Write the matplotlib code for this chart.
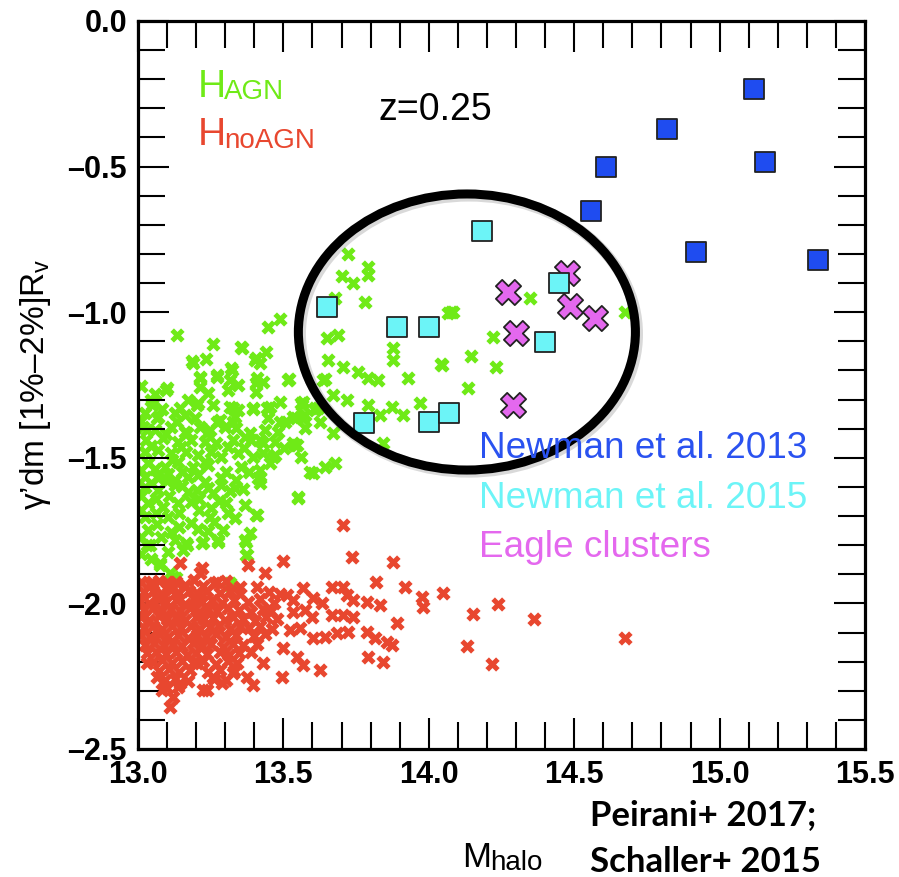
import matplotlib
matplotlib.use("Agg")
import matplotlib.pyplot as plt
from matplotlib.patches import Ellipse
from matplotlib.ticker import MultipleLocator, FuncFormatter

plt.rcParams['font.family'] = ['Liberation Sans', 'DejaVu Sans']
plt.rcParams['mathtext.fontset'] = 'custom'
plt.rcParams['mathtext.rm'] = 'Liberation Sans'
plt.rcParams['mathtext.it'] = 'Liberation Sans'

# ---------------- data ----------------
# Horizon-AGN haloes (log M_halo, gamma'_dm)
hagn = [
    (13.134, -1.078), (13.258, -1.109), (13.186, -1.168), (13.234, -1.161), (13.354, -1.119),
    (13.406, -1.157), (13.440, -1.137), (13.420, -1.175), (13.447, -1.051), (13.488, -1.023),
    (13.320, -1.192), (13.722, -0.800), (13.791, -0.845), (13.791, -0.872), (13.701, -0.876),
    (13.739, -0.900), (13.781, -0.965), (13.677, -0.951), (13.650, -1.089), (13.688, -1.078),
    (13.358, -1.123), (13.402, -1.164), (13.653, -1.164), (13.877, -1.123), (13.877, -1.164),
    (13.705, -1.188), (13.757, -1.205), (13.791, -1.226), (13.825, -1.233), (14.045, -1.181),
    (13.928, -1.226), (14.066, -1.003), (13.272, -1.223), (13.323, -1.199), (13.409, -1.226),
    (13.516, -1.233), (13.213, -1.226), (13.100, -1.260), (13.636, -1.233), (13.671, -1.284),
    (13.719, -1.302), (13.791, -1.319), (13.873, -1.326), (13.970, -1.312), (13.619, -1.329),
    (13.564, -1.319), (13.444, -1.329), (13.395, -1.329), (13.327, -1.329), (13.258, -1.319),
    (13.203, -1.319), (13.144, -1.329), (13.048, -1.319), (13.065, -1.363), (13.134, -1.377),
    (13.272, -1.377), (13.327, -1.377), (13.488, -1.377), (13.533, -1.360), (13.564, -1.363),
    (13.626, -1.377), (13.671, -1.415), (13.842, -1.449), (13.911, -1.353), (13.031, -1.405),
    (13.168, -1.415), (13.237, -1.415), (13.385, -1.415), (13.420, -1.439), (13.533, -1.449),
    (14.076, -0.999), (14.221, -1.085), (14.145, -1.150), (14.042, -1.178), (14.231, -1.188),
    (13.643, -1.229), (14.135, -1.260), (13.832, -1.353), (13.609, -1.336), (13.567, -1.308),
    (14.348, -0.951), (14.675, -0.999), (14.083, -0.999),
    (13.189, -1.174), (13.213, -1.223), (13.272, -1.216), (13.316, -1.233), (13.344, -1.250),
    (13.406, -1.243), (13.430, -1.240), (13.519, -1.229), (13.096, -1.267), (13.213, -1.257),
    (13.241, -1.278), (13.310, -1.267), (13.406, -1.274), (13.045, -1.302), (13.172, -1.302),
    (13.206, -1.312), (13.316, -1.326), (13.344, -1.336), (13.395, -1.332), (13.454, -1.326),
    (13.488, -1.308), (13.561, -1.312), (13.609, -1.329), (13.024, -1.346), (13.069, -1.360),
    (13.127, -1.346), (13.162, -1.353), (13.196, -1.363), (13.282, -1.370), (13.334, -1.360),
    (13.447, -1.363), (13.505, -1.377), (13.543, -1.363), (13.574, -1.353), (13.017, -1.394),
    (13.058, -1.405), (13.113, -1.394), (13.162, -1.411), (13.213, -1.394), (13.248, -1.405),
    (13.299, -1.394), (13.337, -1.398), (13.368, -1.428), (13.437, -1.405), (13.481, -1.411),
    (13.574, -1.398), (13.028, -1.439), (13.086, -1.432), (13.137, -1.446), (13.182, -1.439),
    (13.230, -1.446), (13.268, -1.449), (13.327, -1.439), (13.389, -1.439), (13.430, -1.449),
    (13.471, -1.446), (13.540, -1.456), (13.024, -1.480), (13.069, -1.473), (13.113, -1.484),
    (13.165, -1.480), (13.206, -1.490), (13.251, -1.480), (13.285, -1.497), (13.344, -1.484),
    (13.395, -1.497), (13.430, -1.484), (13.471, -1.490), (13.561, -1.497), (13.034, -1.518),
    (13.093, -1.532), (13.137, -1.514), (13.189, -1.532), (13.241, -1.525), (13.303, -1.549),
    (13.354, -1.532), (13.420, -1.542), (13.454, -1.518), (13.591, -1.549), (13.024, -1.566),
    (13.069, -1.569), (13.127, -1.576), (13.172, -1.566), (13.230, -1.583), (13.285, -1.569),
    (13.337, -1.576), (13.420, -1.569), (13.024, -1.600), (13.069, -1.611), (13.127, -1.593),
    (13.172, -1.617), (13.241, -1.604), (13.285, -1.593), (13.334, -1.604), (13.420, -1.587),
    (13.550, -1.635), (13.034, -1.655), (13.086, -1.669), (13.137, -1.655), (13.182, -1.652),
    (13.251, -1.672), (13.303, -1.655), (13.368, -1.662), (13.406, -1.696), (13.024, -1.703),
    (13.103, -1.703), (13.182, -1.724), (13.248, -1.703), (13.292, -1.748), (13.334, -1.707),
    (13.034, -1.748), (13.113, -1.755), (13.165, -1.793), (13.224, -1.789), (13.275, -1.789),
    (13.385, -1.758), (13.371, -1.789), (13.041, -1.799), (13.103, -1.824), (13.155, -1.817),
    (13.371, -1.834), (13.076, -1.868), (13.110, -1.896), (13.131, -1.913), (13.316, -1.930),
    (13.547, -1.456), (13.602, -1.552), (13.550, -1.638), (13.643, -1.532), (13.677, -1.518),
    (13.464, -1.497), (13.413, -1.569), (13.409, -1.696), (13.368, -1.782), (13.375, -1.834),
    (13.316, -1.937), (13.275, -1.782), (13.220, -1.793), (13.168, -1.799), (13.076, -1.861),
    (13.120, -1.909), (13.031, -1.799),
    (13.012, -1.253), (13.058, -1.281), (13.081, -1.331), (13.009, -1.372), (13.098, -1.418),
    (13.046, -1.458), (13.149, -1.462), (13.011, -1.541), (13.058, -1.539), (13.103, -1.556),
    (13.151, -1.548), (13.206, -1.558), (13.046, -1.586), (13.099, -1.581), (13.151, -1.597),
    (13.204, -1.611), (13.259, -1.621), (13.011, -1.631), (13.061, -1.641), (13.108, -1.631),
    (13.211, -1.641), (13.061, -1.689), (13.141, -1.690), (13.211, -1.678), (13.011, -1.678),
    (13.066, -1.728), (13.141, -1.738), (13.208, -1.745), (13.011, -1.771), (13.078, -1.772),
    (13.126, -1.781), (13.011, -1.832), (13.046, -1.848), (13.261, -1.719), (13.311, -1.690),
    (13.366, -1.468), (13.309, -1.462), (13.381, -1.548), (13.318, -1.613), (13.278, -1.648),
    (13.229, -1.515), (13.118, -1.508), (13.501, -1.468), (13.361, -1.608), (13.241, -1.752),
]

# Horizon-noAGN haloes
hnoagn = [
    (13.012, -1.928), (13.041, -1.935), (13.072, -1.922), (13.103, -1.940), (13.131, -1.926),
    (13.162, -1.937), (13.193, -1.921), (13.224, -1.939), (13.262, -1.931), (13.301, -1.924),
    (13.021, -1.962), (13.053, -1.957), (13.083, -1.968), (13.114, -1.955), (13.142, -1.966),
    (13.174, -1.959), (13.205, -1.969), (13.238, -1.956), (13.281, -1.963), (13.318, -1.958),
    (13.352, -1.967), (13.452, -1.961), (13.488, -1.969), (13.008, -1.991), (13.039, -1.998),
    (13.068, -1.986), (13.097, -1.995), (13.129, -1.988), (13.163, -2.001), (13.191, -1.984),
    (13.221, -1.996), (13.253, -1.989), (13.289, -1.999), (13.331, -1.987), (13.379, -1.994),
    (13.421, -1.986), (13.468, -1.997), (13.019, -2.022), (13.051, -2.015), (13.082, -2.027),
    (13.112, -2.018), (13.143, -2.025), (13.178, -2.016), (13.209, -2.029), (13.241, -2.019),
    (13.272, -2.026), (13.309, -2.017), (13.348, -2.024), (13.389, -2.031), (13.429, -2.019),
    (13.459, -2.027), (13.009, -2.048), (13.038, -2.056), (13.071, -2.044), (13.101, -2.053),
    (13.132, -2.047), (13.162, -2.058), (13.198, -2.045), (13.228, -2.054), (13.259, -2.049),
    (13.298, -2.057), (13.327, -2.046), (13.361, -2.052), (13.402, -2.059), (13.441, -2.047),
    (13.478, -2.055), (13.022, -2.083), (13.052, -2.076), (13.084, -2.088), (13.118, -2.079),
    (13.149, -2.086), (13.181, -2.077), (13.212, -2.089), (13.248, -2.081), (13.279, -2.074),
    (13.318, -2.087), (13.351, -2.079), (13.382, -2.085), (13.421, -2.076), (13.462, -2.088),
    (13.011, -2.108), (13.042, -2.116), (13.073, -2.105), (13.103, -2.114), (13.138, -2.107),
    (13.171, -2.118), (13.202, -2.109), (13.233, -2.115), (13.268, -2.104), (13.302, -2.117),
    (13.338, -2.108), (13.398, -2.113), (13.438, -2.106), (13.023, -2.142), (13.054, -2.137),
    (13.088, -2.146), (13.121, -2.139), (13.152, -2.148), (13.188, -2.136), (13.219, -2.145),
    (13.252, -2.141), (13.291, -2.149), (13.328, -2.138), (13.362, -2.144), (13.409, -2.139),
    (13.031, -2.172), (13.062, -2.166), (13.098, -2.175), (13.131, -2.168), (13.168, -2.177),
    (13.201, -2.169), (13.238, -2.174), (13.281, -2.166), (13.312, -2.178), (13.349, -2.171),
    (13.388, -2.167), (13.052, -2.201), (13.083, -2.196), (13.118, -2.206), (13.151, -2.199),
    (13.188, -2.204), (13.222, -2.197), (13.268, -2.207), (13.309, -2.199), (13.342, -2.205),
    (13.071, -2.232), (13.108, -2.226), (13.142, -2.236), (13.178, -2.228), (13.239, -2.234),
    (13.281, -2.227), (13.329, -2.233), (13.092, -2.262), (13.128, -2.258), (13.171, -2.266),
    (13.261, -2.259), (13.302, -2.264), (13.101, -2.291), (13.139, -2.287), (13.222, -2.296),
    (13.144, -1.861), (13.220, -1.878), (13.378, -1.868), (13.499, -1.854), (13.705, -1.731),
    (13.736, -1.841), (13.877, -1.858), (13.818, -1.927), (13.918, -1.944), (13.977, -1.978),
    (13.980, -2.012), (14.049, -1.964), (13.567, -1.947), (13.667, -1.944), (13.705, -1.944),
    (13.719, -1.971), (13.437, -1.896), (13.272, -1.927), (13.048, -1.927), (13.100, -1.927),
    (13.213, -1.896), (13.351, -1.944), (13.409, -1.944), (13.512, -1.971), (13.533, -1.988),
    (13.602, -1.981), (13.633, -1.999), (13.739, -1.988), (13.787, -1.995), (13.832, -2.005),
    (13.667, -2.040), (13.705, -2.040), (13.739, -2.047), (13.891, -2.067), (13.533, -2.030),
    (13.574, -2.023), (13.598, -2.047), (13.523, -2.091), (13.557, -2.084), (13.602, -2.119),
    (13.643, -2.115), (13.684, -2.102), (13.722, -2.098), (13.787, -2.098), (13.815, -2.119),
    (13.856, -2.133), (13.873, -2.143), (13.791, -2.184), (13.842, -2.201), (13.626, -2.229),
    (13.567, -2.212), (13.547, -2.184), (13.499, -2.153), (13.495, -2.253), (13.430, -2.205),
    (13.395, -2.280), (13.375, -2.253), (13.237, -2.297), (13.289, -2.273), (13.327, -2.239),
    (13.258, -2.253), (13.203, -2.205), (13.144, -2.273), (13.120, -2.321), (13.110, -2.356),
    (13.082, -2.297), (13.065, -2.253), (13.031, -2.205), (14.238, -2.002), (14.152, -2.036),
    (14.131, -2.146), (14.217, -2.208), (14.362, -2.054), (14.675, -2.119),
]

# Newman et al. 2013 clusters
newman13_m = [15.118, 14.819, 14.609, 15.156, 14.558, 14.919, 15.338]
newman13_g = [-0.234, -0.371, -0.501, -0.484, -0.652, -0.793, -0.821]

# Newman et al. 2015 groups
newman15_m = [14.183, 14.448, 14.400, 13.650, 13.891, 14.001, 13.777, 14.001, 14.069]
newman15_g = [-0.721, -0.900, -1.102, -0.982, -1.051, -1.051, -1.380, -1.377, -1.346]

# EAGLE clusters
eagle_m = [14.475, 14.272, 14.486, 14.572, 14.300, 14.290]
eagle_g = [-0.865, -0.930, -0.979, -1.020, -1.071, -1.319]

GREEN = '#6FEA17'
RED = '#E8472F'
BLUE = '#1F4CF0'
CYAN = '#6CF4F7'
MAGENTA = '#E468EE'

W, H = 899, 877
fig = plt.figure(figsize=(W / 100, H / 100), dpi=100)
ax = fig.add_axes([138 / W, 1 - 749 / H, (865 - 138) / W, (749 - 21) / H])

def fx(px):
    return px / W

def fy(py):
    return 1 - py / H

ax.scatter([p[0] for p in hagn], [p[1] for p in hagn], marker='X', s=105,
           color=GREEN, linewidths=0, zorder=1)
ax.scatter([p[0] for p in hnoagn], [p[1] for p in hnoagn], marker='X', s=105,
           color=RED, linewidths=0, zorder=2)
ax.scatter(newman13_m, newman13_g, marker='s', s=200, color=BLUE,
           edgecolors='#222222', linewidths=1.3, zorder=4)
ax.scatter(eagle_m, eagle_g, marker='X', s=330, color=MAGENTA,
           edgecolors='#222222', linewidths=1.3, zorder=4)
ax.scatter(newman15_m, newman15_g, marker='s', s=200, color=CYAN,
           edgecolors='#222222', linewidths=1.3, zorder=5)

# highlighted region
shadow = Ellipse((14.138, -1.075), 1.159, 0.948, fill=False, lw=8,
                 edgecolor='#000000', alpha=0.15, zorder=6)
ax.add_patch(shadow)
ring = Ellipse((14.131, -1.068), 1.159, 0.948, fill=False, lw=6.5,
               edgecolor='black', zorder=7)
ax.add_patch(ring)

ax.set_xlim(13.0, 15.5)
ax.set_ylim(-2.5, 0.0)
ax.xaxis.set_major_locator(MultipleLocator(0.5))
ax.xaxis.set_minor_locator(MultipleLocator(0.1))
ax.yaxis.set_major_locator(MultipleLocator(0.5))
ax.yaxis.set_minor_locator(MultipleLocator(0.1))
fmt = FuncFormatter(lambda v, pos: ('%.1f' % v).replace('-', '\u2013'))
ax.xaxis.set_major_formatter(fmt)
ax.yaxis.set_major_formatter(fmt)
ax.tick_params(which='both', direction='in', top=True, right=True, width=1.5,
               color='black')
ax.tick_params(which='major', length=22, labelsize=22, pad=8)
ax.tick_params(which='minor', length=19.5)
for lab in ax.get_xticklabels() + ax.get_yticklabels():
    lab.set_fontweight('bold')
for sp in ax.spines.values():
    sp.set_linewidth(2.3)

# in-panel labels
fig.text(fx(198), fy(97), 'H', color=GREEN, fontsize=28, va='baseline')
fig.text(fx(224), fy(99), 'AGN', color=GREEN, fontsize=20, va='baseline')
fig.text(fx(198), fy(145), 'H', color=RED, fontsize=28, va='baseline')
fig.text(fx(224), fy(148), 'noAGN', color=RED, fontsize=20, va='baseline')
fig.text(fx(378), fy(120), 'z=0.25', color='black', fontsize=27, va='baseline')

fig.text(fx(479), fy(458), 'Newman et al. 2013', color='#2A52F0', fontsize=26.6,
         va='baseline', zorder=1)
fig.text(fx(479), fy(508), 'Newman et al. 2015', color=CYAN, fontsize=26.6,
         va='baseline')
fig.text(fx(479), fy(557), 'Eagle clusters', color=MAGENTA, fontsize=26.6,
         va='baseline')

# axis titles
fig.text(fx(36), fy(384), "\u03b3\u2019dm [1%\u20132%]R$_{\\rm v}$",
         rotation=90, fontsize=24, ha='center', va='center')
fig.text(fx(462), fy(867), 'M', fontsize=25, va='baseline')
fig.text(fx(490), fy(870), 'halo', fontsize=20, va='baseline')

fig.text(fx(590), fy(825), 'Peirani+ 2017;', fontsize=25, fontweight='bold',
         family=['Lato', 'DejaVu Sans'], va='baseline')
fig.text(fx(590), fy(872), 'Schaller+ 2015', fontsize=25, fontweight='bold',
         family=['Lato', 'DejaVu Sans'], va='baseline')

fig.savefig('out.png', dpi=100)
